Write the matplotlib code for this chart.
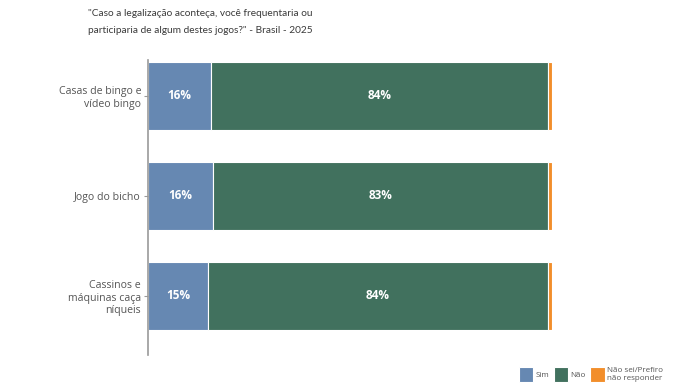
import matplotlib.pyplot as plt
import numpy as np

plt.rcParams['font.family'] = ['Open Sans', 'DejaVu Sans']

# dados
categorias = ["Casas de bingo e\nvídeo bingo", "Jogo do bicho", "Cassinos e\nmáquinas caça\nníqueis"]
sim = [15.6, 16.1, 14.8]
nao = [83.5, 83.0, 84.3]
nao_sei = [0.9, 0.9, 0.9]
series = ["Sim", "Não", "Não sei/Prefiro\nnão responder"]
cores = ["#6688b2", "#41715e", "#f28e2b"]
titulo = ['"Caso a legalização aconteça, você frequentaria ou',
          'participaria de algum destes jogos?" - Brasil - 2025']

fig = plt.figure(figsize=(7, 3.9), dpi=100)
ax = fig.add_axes([148 / 700, 0.0897, 404 / 700, 0.756])

y = np.arange(len(categorias))
left = np.zeros(len(categorias))
barras = []
for vals, cor, nome in zip([sim, nao, nao_sei], cores, series):
    b = ax.barh(y, vals, left=left, height=0.68, color=cor, edgecolor='white',
                linewidth=0.8, label=nome)
    barras.append(b)
    left = left + np.array(vals)

# rótulos das porcentagens
for vals, b in zip([sim, nao], barras[:2]):
    for rect, v in zip(b, vals):
        ax.text(rect.get_x() + rect.get_width() / 2, rect.get_y() + rect.get_height() / 2,
                f"{v:.0f}%", ha='center', va='center', color='white',
                fontsize=8.5, fontweight='bold')

for s in ['top', 'right', 'bottom']:
    ax.spines[s].set_visible(False)
ax.spines['left'].set_color('#999999')
ax.spines['left'].set_linewidth(1.2)
ax.set_yticks(y)
ax.set_yticklabels(categorias, fontsize=7.6, color='#555555')
ax.set_ylim(2.59, -0.355)
ax.set_xlim(0, 100)
ax.set_xticks([])
ax.tick_params(axis='y', length=3, color='#999999', pad=2)

# título em duas linhas
for linha, ypos in zip(titulo, [0.966, 0.923]):
    fig.text(88 / 700, ypos, linha, fontsize=7.3, color='#3a3a3a', va='center', ha='left',
             family=['Lato', 'DejaVu Sans'])

fig.legend(handles=barras, labels=series, loc='lower right', bbox_to_anchor=(0.958, 0.003),
           ncol=3, frameon=False, fontsize=5.8, handlelength=1.75, handleheight=2.5,
           handletextpad=0.35, columnspacing=0.55, labelcolor='#555555')

plt.savefig('out.png', dpi=100)
